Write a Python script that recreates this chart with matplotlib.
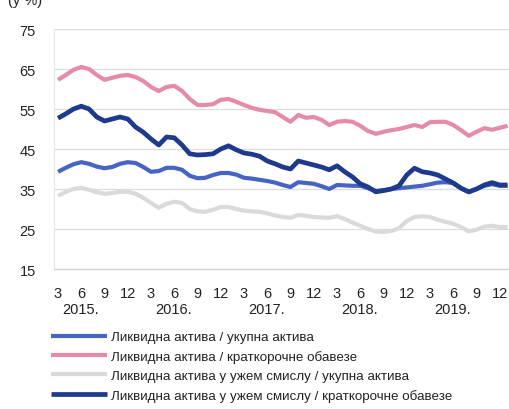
import matplotlib
matplotlib.use("Agg")
import matplotlib.pyplot as plt
from matplotlib import transforms

plt.rcParams['font.family'] = ['Liberation Sans', 'DejaVu Sans']

# months from 3/2015 (index 0) to 1/2020
month_labels = ["3", "6", "9", "12"] * 5
years = ["2015.", "2016.", "2017.", "2018.", "2019."]

series_names = [
    "Ликвидна актива / укупна актива",
    "Ликвидна актива / краткорочне обавезе",
    "Ликвидна актива у ужем смислу / укупна актива",
    "Ликвидна актива у ужем смислу / краткорочне обавезе",
]

liquid_total = [39.3, 40.3, 41.2, 41.7, 41.3, 40.6, 40.2, 40.5, 41.3, 41.7,
                41.5, 40.5, 39.3, 39.5, 40.3, 40.3, 39.8, 38.3, 37.7, 37.8,
                38.5, 39.0, 39.0, 38.6, 37.8, 37.6, 37.3, 37.0, 36.6, 36.0,
                35.5, 36.7, 36.5, 36.3, 35.7, 35.0, 36.0, 35.9, 35.8, 35.8,
                35.2, 34.5, 34.7, 35.0, 35.2, 35.4, 35.6, 35.8, 36.2, 36.6,
                36.7, 36.5, 35.2, 34.2, 35.0, 35.8, 36.2, 35.8, 35.8]

liquid_short = [62.3, 63.5, 64.8, 65.5, 65.0, 63.5, 62.3, 62.8, 63.3, 63.5,
                63.0, 62.0, 60.5, 59.5, 60.5, 60.8, 59.5, 57.5, 56.0, 56.0,
                56.2, 57.3, 57.5, 56.8, 56.0, 55.3, 54.8, 54.5, 54.2, 53.0,
                51.8, 53.5, 52.8, 53.0, 52.3, 51.0, 51.8, 52.0, 51.8, 50.8,
                49.5, 48.8, 49.3, 49.7, 50.0, 50.5, 51.0, 50.5, 51.7, 51.8,
                51.8, 51.0, 49.7, 48.3, 49.3, 50.2, 49.8, 50.3, 50.8]

narrow_total = [33.3, 34.3, 35.0, 35.3, 34.8, 34.2, 33.8, 34.0, 34.3, 34.3,
                33.8, 32.8, 31.5, 30.3, 31.3, 31.8, 31.5, 30.0, 29.4, 29.3,
                29.8, 30.5, 30.5, 30.0, 29.6, 29.4, 29.3, 28.9, 28.4, 28.0,
                27.8, 28.5, 28.3, 28.0, 27.9, 27.8, 28.2, 27.5, 26.6, 25.8,
                25.0, 24.4, 24.3, 24.5, 25.2, 27.0, 28.0, 28.2, 28.0, 27.3,
                26.8, 26.3, 25.5, 24.4, 24.8, 25.6, 25.8, 25.5, 25.5]

narrow_short = [52.7, 53.8, 55.0, 55.7, 55.0, 53.0, 52.0, 52.5, 53.0, 52.5,
                50.5, 49.2, 47.5, 46.0, 48.0, 47.8, 46.0, 43.8, 43.5, 43.6,
                43.8, 45.0, 45.8, 44.8, 44.0, 43.7, 43.2, 42.0, 41.3, 40.5,
                40.0, 42.0, 41.5, 41.0, 40.5, 39.8, 40.8, 39.3, 38.0, 36.3,
                35.5, 34.3, 34.6, 35.0, 35.8, 38.5, 40.2, 39.3, 39.0, 38.5,
                37.5, 36.5, 35.2, 34.3, 35.0, 36.0, 36.6, 36.0, 36.0]

yticks = [15, 25, 35, 45, 55, 65, 75]

colors = ["#4564c4", "#e58aa8", "#dadada", "#1e3a8c"]
widths = [3.0, 3.0, 3.0, 3.4]

fig = plt.figure(figsize=(5.09, 4.10), dpi=100)
ax = fig.add_axes([54/509, 1 - 270/410, 1 - 54/509, 240/410])

x = list(range(len(liquid_total)))
data = [liquid_total, liquid_short, narrow_total, narrow_short]
lines = []
for vals, c, w, name in zip(data, colors, widths, series_names):
    ln, = ax.plot(x, vals, color=c, lw=w, label=name, solid_capstyle='butt')
    lines.append(ln)

ax.set_ylim(15, 75)
ax.set_xlim(-0.52, 58.19)
ax.set_yticks(yticks)
ax.set_yticklabels([str(v) for v in yticks], fontsize=10.5, color="#222222")
ax.set_xticks(list(range(0, 3 * len(month_labels), 3)))
ax.set_xticklabels(month_labels, fontsize=10.5, color="#222222")
ax.tick_params(axis='both', length=0)
ax.tick_params(axis='y', pad=13)
ax.tick_params(axis='x', pad=12)

ax.grid(axis='y', color="#dcdcdc", lw=0.9)
ax.set_axisbelow(True)
for s in ["top", "right"]:
    ax.spines[s].set_visible(False)
ax.spines["left"].set_color("#e4e4e4")
ax.spines["bottom"].set_color("#d4d4d4")
ax.spines["bottom"].set_linewidth(1.0)

trans = transforms.blended_transform_factory(ax.transData, fig.transFigure)
for i, yl in enumerate(years):
    ax.text(2.9 + 12 * i, 1 - 310/410, yl, transform=trans, ha='center',
            va='center', fontsize=10.5, color="#222222")

fig.text(8/509, 1 - 1/410, "(у %)", ha='left', va='center', fontsize=10.5,
         color="#222222")

leg = fig.legend(handles=lines, loc='upper left',
                 bbox_to_anchor=(51/509, 1 - 332/410), frameon=False,
                 fontsize=9.6, handlelength=4.2, handletextpad=0.3,
                 labelspacing=0.5, borderaxespad=0, borderpad=0)
for t in leg.get_texts():
    t.set_color("#222222")

fig.savefig("out.png", dpi=100)
